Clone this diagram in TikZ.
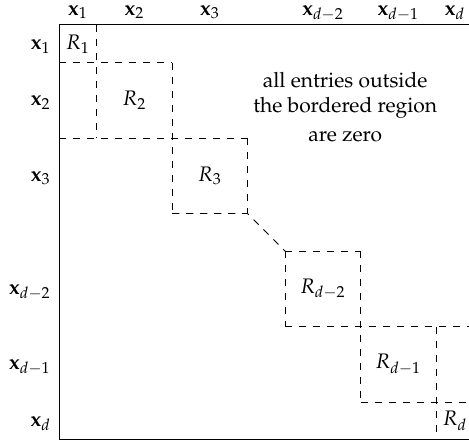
\documentclass[tikz,border=0pt]{standalone}
\usepackage[T1]{fontenc}
\usepackage{mathpazo}
\begin{document}
\begin{tikzpicture}[x=0.5pt,y=-0.5pt,
  font=\fontsize{10.5}{12.6}\selectfont,
  frame/.style={line width=0.5pt},
  border/.style={dash pattern=on 3.6pt off 3.4pt, line width=0.45pt},
  collbl/.style={anchor=base, inner sep=0pt},
  rowlbl/.style={anchor=base east, inner sep=0pt},
  blocklbl/.style={inner sep=0pt},
  note/.style={anchor=base, inner sep=0pt}]
\useasboundingbox (0,0) rectangle (469,444);
\clip (0,0) rectangle (469,444);
\begin{scope}[shift={(59,25)}, x=18.85pt, y=-18.85pt]
  % matrix frame
  \draw[frame] (0,0) rectangle (11,11);
  % bordered region
  \draw[border] (1,0) -- (1,3);
  \draw[border] (0,1) -- (3,1);
  \draw[border] (3,1) -- (3,5);
  \draw[border] (0,3) -- (5,3);
  \draw[border] (5,3) -- (5,5);
  \draw[border] (3,5) -- (5,5) -- (6,6);
  \draw[border] (6,6) -- (8,6);
  \draw[border] (6,6) -- (6,8);
  \draw[border] (8,6) -- (8,10);
  \draw[border] (6,8) -- (11,8);
  \draw[border] (10,8) -- (10,11);
  \draw[border] (8,10) -- (11,10);
  % column labels
  \node[collbl] (c1) at (0.5,-0.265) {$\mathbf{x}_1$};
  \node[collbl] (c2) at (2,-0.265) {$\mathbf{x}_2$};
  \node[collbl] (c3) at (4,-0.265) {$\mathbf{x}_3$};
  \node[collbl] (c4) at (7,-0.265) {$\mathbf{x}_{d-2}$};
  \node[collbl] (c5) at (9,-0.265) {$\mathbf{x}_{d-1}$};
  \node[collbl] (c6) at (10.5,-0.265) {$\mathbf{x}_d$};
  % row labels
  \node[rowlbl] (r1) at (-0.21,0.64) {$\mathbf{x}_1$};
  \node[rowlbl] (r2) at (-0.21,2.14) {$\mathbf{x}_2$};
  \node[rowlbl] (r3) at (-0.21,4.14) {$\mathbf{x}_3$};
  \node[rowlbl] (r4) at (-0.21,7.14) {$\mathbf{x}_{d-2}$};
  \node[rowlbl] (r5) at (-0.21,9.14) {$\mathbf{x}_{d-1}$};
  \node[rowlbl] (r6) at (-0.21,10.64) {$\mathbf{x}_d$};
  % block labels
  \node[blocklbl] (R1) at (0.5,0.5) {$R_1$};
  \node[blocklbl] (R2) at (2,2) {$R_2$};
  \node[blocklbl] (R3) at (4,4) {$R_3$};
  \node[blocklbl] (R4) at (7,7) {$R_{d-2}$};
  \node[blocklbl] (R5) at (9,9) {$R_{d-1}$};
  \node[blocklbl] (R6) at (10.5,10.5) {$R_d$};
  % note
  \node[note] (n1) at (7.59,1.645) {all entries outside};
  \node[note] (n2) at (7.59,2.31) {the bordered region};
  \node[note] (n3) at (7.59,3.10) {are zero};
\end{scope}
\end{tikzpicture}
\end{document}
